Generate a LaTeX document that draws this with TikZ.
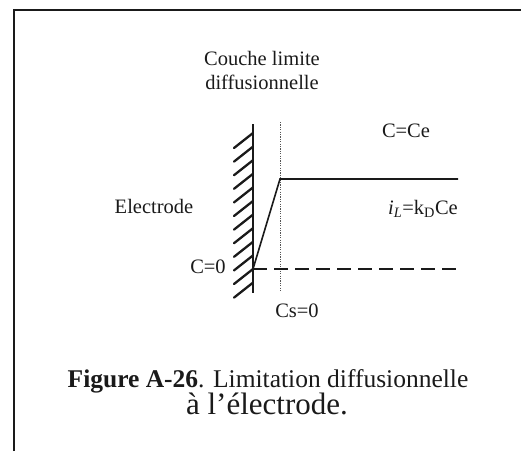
\documentclass[tikz,border=0pt]{standalone}
\usepackage{fontspec}
\setmainfont{Liberation Serif}
\usepackage{tikz}
\usetikzlibrary{positioning, calc}
\definecolor{ink}{HTML}{1A1A1A}
\definecolor{dotc}{HTML}{555555}
\newcommand{\lblfont}{\fontsize{20.5}{24}\selectfont}
\tikzset{
  lbl/.style={inner sep=0pt, anchor=base, text=ink, font=\lblfont},
  frameline/.style={draw=ink, line width=1.6pt},
  wall/.style={draw=ink, line width=2.6pt},
  hatch/.style={draw=ink, line width=2.3pt, line cap=round},
  profile/.style={draw=ink, line width=1.6pt},
  limitline/.style={draw=dotc, line width=0.9pt, dash pattern=on 1.2pt off 1.2pt},
  zeroline/.style={draw=ink, line width=1.6pt, dash pattern=on 14pt off 7pt},
}

\begin{document}
\begin{tikzpicture}[x=1pt, y=-1pt]
  \useasboundingbox (0,0) rectangle (521,451);
  % frame
  \coordinate (fbl) at (14,451);
  \coordinate (ftl) at (14,10);
  \coordinate (ftr) at (521,10);
  \draw[frameline] (fbl) -- (ftl) -- (ftr);
  % electrode wall
  \coordinate (wtop) at (253,124);
  \coordinate (wbot) at (253,293);
  \draw[wall] (wtop) -- (wbot);
  \foreach \i in {0,...,11}
    \draw[hatch] ($(wtop)+(0,9+13.6*\i)$) -- ++(-19,15);
  % diffusion layer limit
  \coordinate (dtop) at (280,122);
  \coordinate (dbot) at (280,292);
  \draw[limitline] (dtop) -- (dbot);
  % concentration profile
  \coordinate (surf) at (253,269);
  \coordinate (knee) at (280,179);
  \coordinate (bulk) at (458,179);
  \coordinate (zend) at (458,269);
  \draw[profile] (surf) -- (knee) -- (bulk);
  \draw[zeroline] (surf) -- (zend);
  % labels
  \node[lbl] (couche) at (262,65) {Couche limite};
  \node[lbl] (diffu) at (262,89) {diffusionnelle};
  \node[lbl] (electrode) at (154,213) {Electrode};
  \node[lbl] (cce) at (406,137) {C=Ce};
  \node[lbl] (il) at (423,214) {\textit{i}\textsubscript{\textit{L}}=k\textsubscript{D}Ce};
  \node[lbl] (czero) at (208,273) {C=0};
  \node[lbl] (cszero) at (297,317) {Cs=0};
  % caption
  \node[lbl, font=\fontsize{25.5}{28}\selectfont] (cap1) at (268,387)
    {\textbf{Figure A-26}. Limitation diffusionnelle};
  \node[lbl, font=\fontsize{31}{34}\selectfont] (cap2) at (267,414)
    {à l’électrode.};
\end{tikzpicture}
\end{document}
